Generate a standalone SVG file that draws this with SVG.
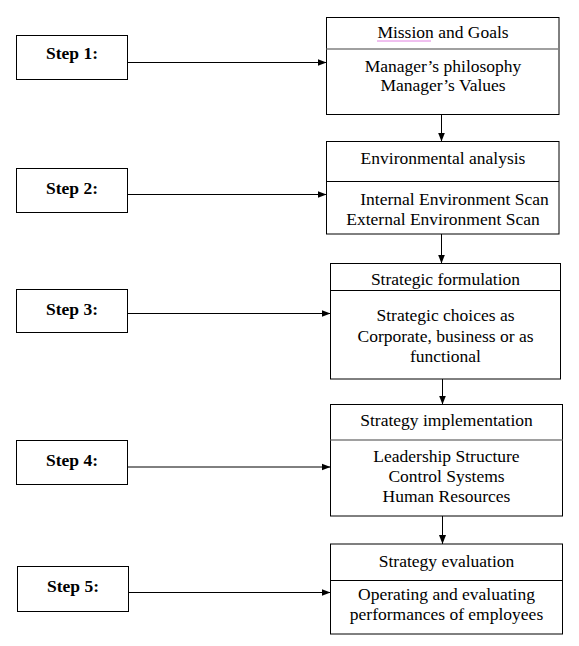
<svg xmlns="http://www.w3.org/2000/svg" width="579" height="646" viewBox="0 0 579 646">
<defs>
<style>
.box{fill:#fff;stroke:#000;stroke-width:1}
.div{stroke:#000;stroke-width:1}
.divg{stroke:#808080;stroke-width:1.6}
.t{font-family:"Liberation Serif","Times New Roman",serif;font-size:17.5px;fill:#000;text-anchor:middle}
.b{font-weight:bold}
.c{stroke:#000;stroke-width:1;fill:none}
</style>
<marker id="ah" markerWidth="9" markerHeight="8" refX="9" refY="4" orient="auto" markerUnits="userSpaceOnUse">
<path d="M0,0.5 L9,4 L0,7.5 Z" fill="#000"/>
</marker>
</defs>
<rect width="579" height="646" fill="#fff"/>

<g id="connectors">
<line class="c" x1="127.5" y1="62.5" x2="326.5" y2="62.5" marker-end="url(#ah)"/>
<line class="c" x1="127.5" y1="194.5" x2="326.5" y2="194.5" marker-end="url(#ah)"/>
<line class="c" x1="127.5" y1="313.5" x2="330.5" y2="313.5" marker-end="url(#ah)"/>
<line class="c" x1="127.5" y1="467" x2="330.5" y2="467" marker-end="url(#ah)"/>
<line class="c" x1="128.5" y1="592.5" x2="330.5" y2="592.5" marker-end="url(#ah)"/>
<line class="c" x1="441.5" y1="114.5" x2="441.5" y2="141.5" marker-end="url(#ah)"/>
<line class="c" x1="441.5" y1="234" x2="441.5" y2="263.5" marker-end="url(#ah)"/>
<line class="c" x1="442.5" y1="379" x2="442.5" y2="404.5" marker-end="url(#ah)"/>
<line class="c" x1="442.5" y1="516" x2="442.5" y2="544" marker-end="url(#ah)"/>
</g>

<g id="step1">
<rect class="box" x="16.5" y="35.5" width="111" height="44"/>
<text class="t b" x="72" y="59">Step 1:</text>
</g>
<g id="step2">
<rect class="box" x="16.5" y="168.5" width="111" height="44"/>
<text class="t b" x="72" y="194">Step 2:</text>
</g>
<g id="step3">
<rect class="box" x="16.5" y="289.5" width="111" height="43"/>
<text class="t b" x="72" y="315">Step 3:</text>
</g>
<g id="step4">
<rect class="box" x="16.5" y="440.5" width="111" height="44"/>
<text class="t b" x="72" y="466">Step 4:</text>
</g>
<g id="step5">
<rect class="box" x="17.5" y="566.5" width="111" height="45"/>
<text class="t b" x="73" y="592">Step 5:</text>
</g>

<g id="mission">
<rect class="box" x="326.5" y="17.5" width="232.5" height="97"/>
<line class="divg" x1="326.5" y1="49" x2="559" y2="49"/>
<text class="t" x="443" y="38">Mission and Goals</text>
<line x1="377.5" y1="41" x2="431.5" y2="41" stroke="#c000c0" stroke-width="1" stroke-dasharray="1,1"/>
<text class="t" x="443" y="72">Manager’s philosophy</text>
<text class="t" x="443" y="91">Manager’s Values</text>
</g>

<g id="environmental">
<rect class="box" x="326.5" y="141.5" width="232.5" height="92.5"/>
<line class="div" x1="326.5" y1="181.5" x2="559" y2="181.5"/>
<text class="t" x="443" y="163.5">Environmental analysis</text>
<text class="t" x="454.5" y="205">Internal Environment Scan</text>
<text class="t" x="443" y="224.5">External Environment Scan</text>
</g>

<g id="formulation">
<rect class="box" x="330.5" y="263.5" width="230" height="115.5"/>
<line class="div" x1="330.5" y1="290.5" x2="560.5" y2="290.5"/>
<text class="t" x="445.5" y="284.5">Strategic formulation</text>
<text class="t" x="445.5" y="321">Strategic choices as</text>
<text class="t" x="445.5" y="341.5">Corporate, business or as</text>
<text class="t" x="445.5" y="361.5">functional</text>
</g>

<g id="implementation">
<rect class="box" x="330.5" y="404.5" width="232" height="111.5"/>
<line class="divg" x1="330.5" y1="440" x2="562.5" y2="440"/>
<text class="t" x="446.5" y="426">Strategy implementation</text>
<text class="t" x="446.5" y="461.5">Leadership Structure</text>
<text class="t" x="446.5" y="481.5">Control Systems</text>
<text class="t" x="446.5" y="501.5">Human Resources</text>
</g>

<g id="evaluation">
<rect class="box" x="330.5" y="544" width="232" height="90"/>
<line class="div" x1="330.5" y1="580.5" x2="562.5" y2="580.5"/>
<text class="t" x="446.5" y="566.5">Strategy evaluation</text>
<text class="t" x="446.5" y="600">Operating and evaluating</text>
<text class="t" x="446.5" y="620">performances of employees</text>
</g>
</svg>
